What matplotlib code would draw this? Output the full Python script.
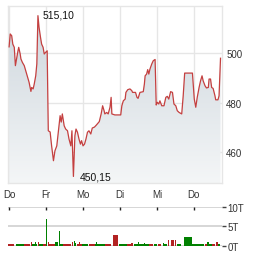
import matplotlib

matplotlib.use("Agg")
import matplotlib.pyplot as plt
import numpy as np

plt.rcParams["font.family"] = ["Liberation Sans", "DejaVu Sans"]

# price series, x in trading days since first "Do"
day_pos = [
    0.00, 0.03, 0.07, 0.10, 0.14, 0.17, 0.21, 0.24, 0.26, 0.30, 0.32, 0.36,
    0.41, 0.45, 0.49, 0.54, 0.59, 0.61, 0.65, 0.68, 0.72, 0.75, 0.78, 0.81,
    0.85, 0.88, 0.92, 0.95, 0.99, 1.03, 1.06, 1.11, 1.15, 1.20, 1.24, 1.29,
    1.33, 1.38, 1.41, 1.44, 1.49, 1.53, 1.58, 1.62, 1.67, 1.70, 1.74, 1.78,
    1.81, 1.85, 1.89, 1.93, 1.96, 2.00, 2.04, 2.08, 2.12, 2.16, 2.21, 2.25,
    2.31, 2.36, 2.44, 2.49, 2.53, 2.57, 2.59, 2.64, 2.68, 2.73, 2.76, 2.78,
    2.86, 3.02, 3.05, 3.09, 3.14, 3.16, 3.21, 3.27, 3.32, 3.34, 3.42, 3.46,
    3.49, 3.54, 3.63, 3.66, 3.68, 3.72, 3.75, 3.78, 3.81, 3.86, 3.90, 3.95,
    3.98, 4.01, 4.05, 4.08, 4.13, 4.19, 4.24, 4.28, 4.32, 4.37, 4.42, 4.46,
    4.51, 4.55, 4.60, 4.67, 4.71, 4.75, 4.96, 5.01, 5.05, 5.09, 5.14, 5.18,
    5.22, 5.25, 5.30, 5.34, 5.39, 5.41, 5.45, 5.48, 5.52, 5.57, 5.59, 5.65,
    5.68, 5.72,
]
price = [
    502.5, 507.7, 507.0, 503.6, 502.3, 494.9, 498.4, 500.9, 502.3, 499.6, 497.6, 496.2,
    494.9, 492.8, 490.8, 488.2, 484.5, 486.1, 485.5, 487.5, 490.8, 495.6, 515.1, 510.4,
    506.3, 503.6, 502.3, 499.6, 500.3, 500.9, 468.6, 468.1, 462.5, 456.5, 460.5, 462.5,
    468.0, 474.7, 472.1, 475.4, 470.6, 469.3, 468.6, 465.3, 462.5, 468.6, 450.15, 466.6,
    469.3, 468.0, 465.3, 463.2, 464.6, 462.5, 463.2, 465.3, 468.0, 468.6, 467.3, 469.7,
    470.1, 470.9, 472.3, 475.4, 478.7, 476.7, 475.4, 476.0, 475.4, 478.1, 482.1, 475.4,
    475.0, 475.0, 478.7, 480.7, 481.4, 484.1, 485.2, 485.5, 484.8, 484.1, 484.1, 482.1,
    481.7, 484.1, 484.4, 487.5, 490.8, 491.5, 493.3, 491.5, 493.5, 495.6, 496.9, 497.4,
    479.0, 480.1, 479.4, 480.7, 478.7, 478.7, 482.1, 482.5, 481.4, 484.4, 484.1, 479.4,
    478.7, 476.7, 476.0, 475.4, 482.7, 491.9, 491.9, 481.4, 478.1, 482.1, 486.1, 488.8,
    490.8, 488.8, 486.8, 485.9, 486.1, 489.5, 489.5, 486.1, 485.7, 482.7, 481.1, 481.1,
    482.7, 497.9,
]

day_labels = ["Do", "Fr", "Mo", "Di", "Mi", "Do"]
price_ticks = [460, 480, 500]
high_label = "515,10"
low_label = "450,15"

# volume bars: start / end in trading days, volume in thousands, 1 = up (green)
vol_start = [
    -0.04, 0.18, 0.41, 0.58, 0.62, 0.70, 0.74, 0.78, 0.82, 0.91, 1.00, 1.04,
    1.05, 1.12, 1.16, 1.23, 1.35, 1.39, 1.46, 1.69, 1.76, 1.79, 1.84, 1.86,
    1.89, 1.98, 2.16, 2.32, 2.36, 2.59, 2.80, 2.96, 3.19, 3.31, 3.37, 3.48,
    3.51, 3.66, 3.69, 3.78, 3.91, 4.03, 4.13, 4.17, 4.20, 4.26, 4.31, 4.34,
    4.37, 4.42, 4.49, 4.53, 4.67, 4.72, 4.95, 5.29, 5.35, 5.40, 5.49, 5.59,
    5.66,
]
vol_end = [
    0.14, 0.39, 0.57, 0.61, 0.70, 0.73, 0.76, 0.81, 0.91, 0.99, 1.03, 1.16,
    1.08, 1.14, 1.23, 1.31, 1.38, 1.46, 1.68, 1.73, 1.78, 1.82, 1.86, 1.96,
    1.92, 2.14, 2.32, 2.59, 2.39, 2.76, 2.95, 3.19, 3.31, 3.36, 3.48, 3.51,
    3.66, 3.69, 3.78, 3.88, 4.00, 4.12, 4.15, 4.20, 4.26, 4.28, 4.33, 4.36,
    4.40, 4.45, 4.51, 4.66, 4.69, 4.95, 5.26, 5.35, 5.40, 5.49, 5.58, 5.65,
    5.70,
]
volume = [
    0.5, 0.5, 0.5, 0.9, 0.5, 0.9, 0.5, 1.1, 0.5, 0.5, 6.8, 0.5,
    0.9, 0.9, 0.5, 0.9, 3.8, 0.5, 0.5, 1.0, 1.2, 0.8, 0.6, 0.5,
    0.9, 0.5, 0.5, 0.5, 0.9, 0.5, 2.8, 0.5, 0.5, 0.8, 0.5, 1.0,
    0.5, 0.8, 0.5, 0.5, 0.5, 0.5, 0.8, 0.8, 0.5, 1.0, 1.6, 1.0,
    1.6, 1.6, 1.6, 0.5, 1.0, 2.3, 0.5, 0.5, 0.9, 0.5, 0.5, 1.0,
    0.5,
]
vol_up = [
    0, 1, 0, 0, 1, 1, 1, 0, 1, 0, 1, 0,
    0, 0, 0, 1, 1, 1, 0, 0, 1, 1, 0, 0,
    0, 1, 0, 1, 1, 0, 0, 1, 0, 0, 1, 1,
    1, 1, 1, 0, 1, 0, 0, 1, 1, 0, 0, 1,
    0, 0, 0, 1, 1, 1, 1, 0, 1, 1, 0, 0,
    1,
]
vol_ticks = [0, 5, 10]
vol_tick_labels = ["0T", "5T", "10T"]

W, H = 264, 255
fig = plt.figure(figsize=(W / 100, H / 100), dpi=100)
ax = fig.add_axes([8 / W, 1 - 184 / H, 214 / W, 177 / H])
vax = fig.add_axes([8 / W, 1 - 247 / H, 214 / W, 39.3 / H])

line_color = "#c44040"
grid_color = "#e6e6e6"
text_color = "#333333"

x = np.array(day_pos)
y = np.array(price)
xlim = (-0.03, 5.76)
ylim = (447.5, 519)

# gradient fill under the price line
grad = np.linspace(0, 1, 256).reshape(-1, 1)
cmap = matplotlib.colors.LinearSegmentedColormap.from_list(
    "fill", ["#f4f6f7", "#ccd5dc"]
)
img = ax.imshow(
    grad,
    extent=[xlim[0], xlim[1], ylim[0], ylim[1]],
    origin="lower",
    aspect="auto",
    cmap=cmap,
    zorder=1,
)
poly = ax.fill_between(x, y, ylim[0], color="none", lw=0)
img.set_clip_path(poly.get_paths()[0], transform=ax.transData)
ax.plot(x, y, color=line_color, lw=0.9, zorder=3)

ax.set_xlim(*xlim)
ax.set_ylim(*ylim)
ax.set_xticks(range(len(day_labels)))
ax.set_xticklabels(day_labels)
ax.set_yticks(price_ticks)
ax.yaxis.tick_right()
ax.grid(True, color=grid_color, lw=1, zorder=0)
ax.set_axisbelow(True)
ax.tick_params(axis="both", length=0, labelsize=7, colors=text_color)
ax.tick_params(axis="x", pad=4)
ax.tick_params(axis="y", pad=3)
for sp in ax.spines.values():
    sp.set_color(grid_color)
    sp.set_linewidth(1)

i_hi = int(np.argmax(y))
i_lo = int(np.argmin(y))
ax.annotate(high_label, (x[i_hi], y[i_hi]), xytext=(5, 1), textcoords="offset pixels",
            va="center", ha="left", fontsize=7.5, color="#111111", zorder=4)
ax.annotate(low_label, (x[i_lo], y[i_lo]), xytext=(6, 0), textcoords="offset pixels",
            va="center", ha="left", fontsize=7.5, color="#111111", zorder=4)

# volume panel
vs = np.array(vol_start)
ve = np.array(vol_end)
colors = ["#008000" if u else "#b22222" for u in vol_up]
for v in vol_ticks:
    vax.axhline(v, color="#cccccc", lw=1.1, zorder=0)
vax.bar(vs, volume, width=ve - vs, align="edge", color=colors, lw=0, zorder=2,
        clip_on=False)
vax.set_xlim(*xlim)
vax.set_ylim(0, 10)
for sp in vax.spines.values():
    sp.set_visible(False)
vax.set_xticks(range(len(day_labels)))
vax.tick_params(axis="x", top=True, bottom=False, direction="in", length=2,
                width=1, color="#222222", labeltop=False, labelbottom=False)
vax.set_yticks(vol_ticks)
vax.set_yticklabels(vol_tick_labels)
vax.yaxis.tick_right()
vax.tick_params(axis="y", length=3, width=1, color="#444444", pad=1,
                labelsize=7, labelcolor=text_color)

fig.savefig("out.png", dpi=100)
